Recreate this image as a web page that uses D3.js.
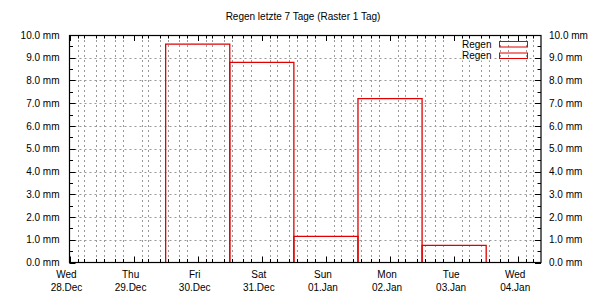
<!DOCTYPE html>
<html><head><meta charset="utf-8">
<script src="https://cdn.jsdelivr.net/npm/d3@7"></script>
<style>
body{margin:0;background:#fff;}
text{font-family:"Liberation Sans",Arial,sans-serif;font-size:10px;fill:#000;}
</style></head>
<body>
<svg id="c" width="610" height="300"></svg>
<script>
const title = "Regen letzte 7 Tage (Raster 1 Tag)";
const dayLabels = ["Wed","Thu","Fri","Sat","Sun","Mon","Tue","Wed"];
const dateLabels = ["28.Dec","29.Dec","30.Dec","31.Dec","01.Jan","02.Jan","03.Jan","04.Jan"];
const barDays = ["2022-12-30","2022-12-31","2023-01-01","2023-01-02","2023-01-03"];
const rainValues = [9.6, 8.8, 1.15, 7.2, 0.75];
const yTicks = [0,1,2,3,4,5,6,7,8,9,10];
const legendLabels = ["Regen","Regen"];

const svg = d3.select("#c");
const L = 69.5, R = 541, T = 35, B = 262.5;
const t0 = new Date(2022,11,28,0,0);
const t1 = new Date(t0.getTime() + 7.355*86400000);
const x = d3.scaleTime().domain([t0,t1]).range([L,R]);
const y = d3.scaleLinear().domain([0,10]).range([B,T]);

const days = d3.timeDay.range(t0, new Date(2023,0,4,1));
const minorHours = [3,5.5,10,13,17,20];
const minor = [];
days.forEach(d => minorHours.forEach(h => {
  const m = new Date(d.getTime()+h*3600000);
  if (m < t1) minor.push(m);
}));

// grid
const g = svg.append("g");
g.selectAll(".vg").data(minor).join("line")
  .attr("x1", d=>Math.round(x(d))+0.5).attr("x2", d=>Math.round(x(d))+0.5)
  .attr("y1", T).attr("y2", B)
  .attr("stroke","#999").attr("stroke-dasharray","2,3").attr("stroke-width",1);
g.selectAll(".hg").data(yTicks.filter(v=>v>0&&v<10)).join("line")
  .attr("x1", L).attr("x2", R)
  .attr("y1", d=>Math.round(y(d))+0.5).attr("y2", d=>Math.round(y(d))+0.5)
  .attr("stroke","#999").attr("stroke-dasharray","2,3").attr("stroke-width",1);

// bars
const bw = x(new Date(2022,11,29)) - x(new Date(2022,11,28));
const bars = barDays.map((s,i)=>({d:d3.timeParse("%Y-%m-%d")(s), v:rainValues[i]}));
svg.selectAll(".bar").data(bars).join("path")
  .attr("d", d=>{
    const cx = x(d.d), l = cx-bw/2, r = cx+bw/2, top = y(d.v);
    return `M${l},${B}V${top}H${r}V${B}`;
  })
  .attr("fill","none").attr("stroke","#e00000").attr("stroke-width",1.3);

// ticks
const tk = svg.append("g").attr("stroke","#000").attr("stroke-width",1);
const px = d=>Math.round(x(d))+0.5;
tk.selectAll(".mb").data(minor).join("line")
  .attr("x1",px).attr("x2",px).attr("y1",B).attr("y2",B-3.5);
tk.selectAll(".mt").data(minor).join("line")
  .attr("x1",px).attr("x2",px).attr("y1",T).attr("y2",T+3.5);
tk.selectAll(".Mb").data(days).join("line")
  .attr("x1",px).attr("x2",px).attr("y1",B).attr("y2",B-6);
tk.selectAll(".Mt").data(days).join("line")
  .attr("x1",px).attr("x2",px).attr("y1",T).attr("y2",T+6);
const yMinor = d3.range(0.5,10,1);
const py = d=>Math.round(y(d))+0.5;
tk.selectAll(".yl").data(yTicks).join("line").attr("x1",L).attr("x2",L+6).attr("y1",py).attr("y2",py);
tk.selectAll(".yr").data(yTicks).join("line").attr("x1",R).attr("x2",R-6).attr("y1",py).attr("y2",py);
tk.selectAll(".yml").data(yMinor).join("line").attr("x1",L).attr("x2",L+3.5).attr("y1",py).attr("y2",py);
tk.selectAll(".ymr").data(yMinor).join("line").attr("x1",R).attr("x2",R-3.5).attr("y1",py).attr("y2",py);

// frame
svg.append("rect").attr("x",L).attr("y",T+0.5).attr("width",R-L).attr("height",B-T-0.5)
  .attr("fill","none").attr("stroke","#000").attr("stroke-width",1.2);

// y labels
svg.selectAll(".ylab").data(yTicks).join("text")
  .attr("x", L-10).attr("y", d=>y(d)+3.5).attr("text-anchor","end")
  .text(d=>d3.format(".1f")(d)+" mm");
svg.selectAll(".yrab").data(yTicks).join("text")
  .attr("x", R+8).attr("y", d=>y(d)+3.5).attr("text-anchor","start")
  .text(d=>d3.format(".1f")(d)+" mm");

// x labels
svg.selectAll(".xl1").data(days).join("text")
  .attr("x", d=>x(d)-3).attr("y", 278).attr("text-anchor","middle")
  .text((d,i)=>dayLabels[i]);
svg.selectAll(".xl2").data(days).join("text")
  .attr("x", d=>x(d)-3).attr("y", 290.5).attr("text-anchor","middle")
  .text((d,i)=>dateLabels[i]);

// title
svg.append("text").attr("x",303).attr("y",19.5).attr("text-anchor","middle").text(title);

// legend
const lg = svg.selectAll(".lg").data(legendLabels).join("g")
  .attr("transform",(d,i)=>`translate(0,${i*11.5})`);
lg.append("rect").attr("x",462).attr("y",39).attr("width",30).attr("height",10).attr("fill","#fff");
lg.append("text").attr("x",462).attr("y",47.5).text(d=>d);
lg.append("rect").attr("x",499.5).attr("y",41.5).attr("width",28).attr("height",5.5)
  .attr("fill","none").attr("stroke","#e00000").attr("stroke-width",1);
</script>
</body></html>
